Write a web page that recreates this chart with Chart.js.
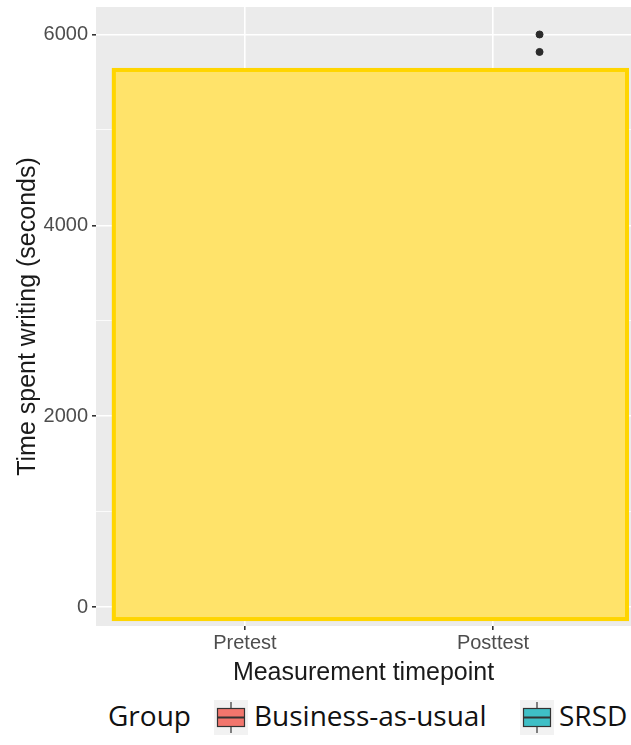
<!DOCTYPE html>
<html>
<head>
<meta charset="utf-8">
<script src="https://cdn.jsdelivr.net/npm/chart.js@4.4.1/dist/chart.umd.min.js"></script>
<style>
  body { margin: 0; background: #fff; }
  #wrap { position: relative; width: 631px; height: 745px; overflow: hidden; }
  #legend { position: absolute; left: 0; top: 690px; width: 631px; height: 55px;
            font-family: "Open Sans", "Noto Sans", sans-serif; font-size: 28px; color: #111; }
  #legend span, #legend svg { position: absolute; }
</style>
</head>
<body>
<div id="wrap">
  <canvas id="myChart" width="631" height="690"></canvas>
  <div id="legend"></div>
</div>
<script>
// categories and groups
const categories = ['Pretest', 'Posttest'];
const groups = ['Business-as-usual', 'SRSD'];
const groupColors = ['#F2766D', '#3FBFC6'];
const yTicks = [0, 1000, 2000, 3000, 4000, 5000, 6000];

// outliers still visible above the covered boxes
const outlierCategory = ['Posttest', 'Posttest'];
const outlierGroup = ['SRSD', 'SRSD'];
const outlierValue = [6000, 5817];

const dodge = 0.375;
const outliers = outlierValue.map((v, i) => ({
  x: categories.indexOf(outlierCategory[i]) + 1 + (groups.indexOf(outlierGroup[i]) - 0.5) * dodge,
  y: v,
}));

const axisFont = 'Liberation Sans, Arial, sans-serif';

// grey panel behind the grid
const panelBg = {
  id: 'panelBg',
  beforeDraw(chart) {
    const { ctx, chartArea: a } = chart;
    ctx.save();
    ctx.fillStyle = '#EBEBEB';
    ctx.fillRect(a.left, a.top, a.right - a.left, a.bottom - a.top);
    ctx.restore();
  },
};

// yellow box that hides the boxplots (data units)
const cover = {
  id: 'cover',
  beforeDatasetsDraw(chart) {
    const { ctx, scales: { x, y } } = chart;
    const l = x.getPixelForValue(0.464), r = x.getPixelForValue(2.548);
    const t = y.getPixelForValue(5649), b = y.getPixelForValue(-147);
    ctx.save();
    ctx.fillStyle = '#FFE36A';
    ctx.strokeStyle = '#FFD500';
    ctx.lineWidth = 4;
    ctx.fillRect(l, t, r - l, b - t);
    ctx.strokeRect(l + 2, t + 2, r - l - 4, b - t - 4);
    ctx.restore();
  },
};

function noPad(s) {
  s.paddingTop = 0;
  s.paddingBottom = 0;
  s.paddingLeft = 0;
  s.paddingRight = 0;
}

var ctx = document.getElementById('myChart').getContext('2d');
var chart = new Chart(ctx, {
  type: 'scatter',
  data: {
    datasets: [
      {
        label: 'outliers',
        data: outliers,
        backgroundColor: '#2b2b2b',
        borderColor: '#2b2b2b',
        pointRadius: 3.5,
        pointHoverRadius: 3.5,
      },
    ],
  },
  options: {
    responsive: false,
    animation: false,
    devicePixelRatio: 1,
    layout: { autoPadding: false, padding: { top: 7, left: 0, right: 0, bottom: 0 } },
    plugins: { legend: { display: false }, tooltip: { enabled: false } },
    scales: {
      x: {
        type: 'linear',
        min: 0.4,
        max: 2.556,
        afterBuildTicks: s => { s.ticks = categories.map((c, i) => ({ value: i + 1 })); },
        afterFit: s => { s.height = 64; noPad(s); },
        border: { display: false },
        grid: { color: '#fff', lineWidth: 1.6, tickColor: '#333', tickLength: 4 },
        ticks: {
          autoSkip: false,
          maxRotation: 0,
          padding: 1,
          color: '#4D4D4D',
          font: { family: axisFont, size: 20 },
          callback: (v, i) => categories[i],
        },
        title: {
          display: true,
          text: 'Measurement timepoint',
          color: '#1a1a1a',
          font: { family: axisFont, size: 25 },
          padding: { top: 0, bottom: 2 },
        },
      },
      y: {
        min: -199,
        max: 6288,
        afterBuildTicks: s => { s.ticks = yTicks.map(v => ({ value: v })); },
        afterFit: s => { s.width = 96; noPad(s); },
        border: { display: false },
        grid: {
          color: '#fff',
          lineWidth: c => (c.tick && c.tick.value % 2000 === 0 ? 1.6 : 0.8),
          tickColor: c => (c.tick && c.tick.value % 2000 === 0 ? '#333' : 'rgba(0,0,0,0)'),
          tickLength: 4,
        },
        ticks: {
          autoSkip: false,
          padding: 4,
          color: '#4D4D4D',
          font: { family: axisFont, size: 20 },
          callback: v => (v % 2000 === 0 ? String(v) : ''),
        },
        title: {
          display: true,
          text: 'Time spent writing (seconds)',
          color: '#1a1a1a',
          font: { family: axisFont, size: 25 },
          padding: { top: 13, bottom: 0 },
        },
      },
    },
  },
  plugins: [panelBg, cover],
});

// legend row under the chart
function keySvg(color, left) {
  return '<svg style="left:' + left + 'px;top:10px" width="34" height="35" viewBox="0 0 34 35">' +
    '<rect x="0" y="0" width="34" height="35" fill="#F2F2F2"/>' +
    '<line x1="17" y1="2" x2="17" y2="33" stroke="#333" stroke-width="1.2"/>' +
    '<rect x="3.5" y="8.5" width="27" height="18" fill="' + color + '" stroke="#333" stroke-width="1.2"/>' +
    '<line x1="3.5" y1="17.5" x2="30.5" y2="17.5" stroke="#333" stroke-width="2"/>' +
    '</svg>';
}
const keyLeft = [214, 520];
const textLeft = [254, 559];
let html = '<span style="left:108px;top:6px">Group</span>';
groups.forEach((g, i) => {
  html += keySvg(groupColors[i], keyLeft[i]);
  html += '<span style="left:' + textLeft[i] + 'px;top:6px">' + g + '</span>';
});
document.getElementById('legend').innerHTML = html;
</script>
</body>
</html>
